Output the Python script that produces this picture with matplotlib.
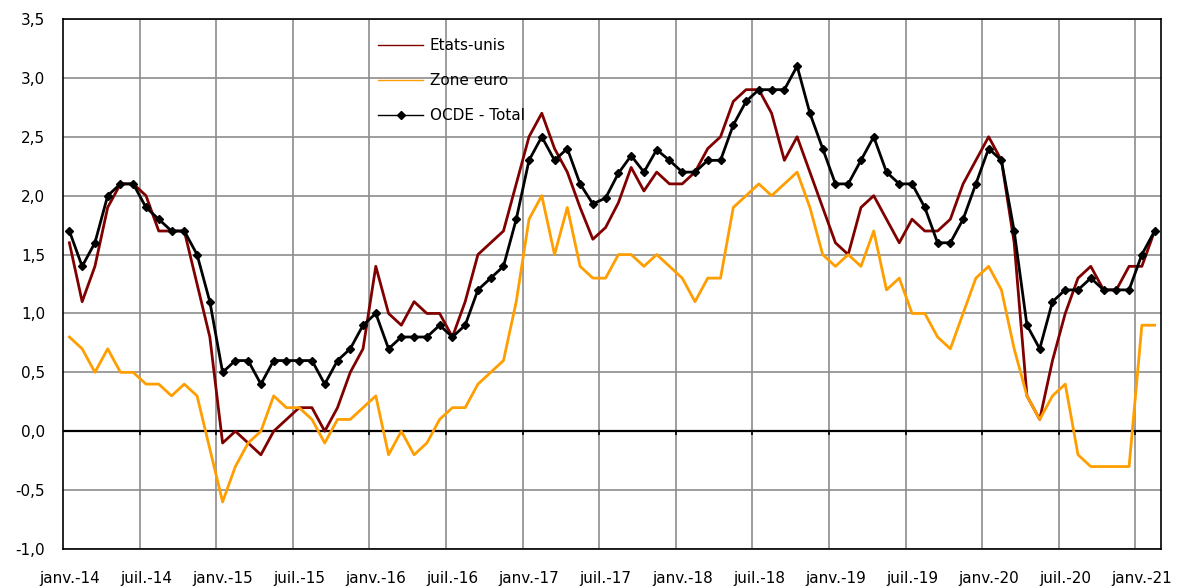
import matplotlib
matplotlib.use('Agg')
import matplotlib.pyplot as plt
from matplotlib.lines import Line2D
import numpy as np

# monthly values, janv.-14 .. févr.-21
etats_unis = [1.6, 1.1, 1.4, 1.9, 2.1, 2.1, 2.0, 1.7, 1.7, 1.7, 1.25, 0.8,
              -0.1, 0.0, -0.1, -0.2, 0.0, 0.1, 0.2, 0.2, 0.0, 0.2, 0.5, 0.7,
              1.4, 1.0, 0.9, 1.1, 1.0, 1.0, 0.8, 1.1, 1.5, 1.6, 1.7, 2.1,
              2.5, 2.7, 2.4, 2.2, 1.9, 1.63, 1.73, 1.94, 2.24, 2.04, 2.2, 2.1,
              2.1, 2.2, 2.4, 2.5, 2.8, 2.9, 2.9, 2.7, 2.3, 2.5, 2.2, 1.9,
              1.6, 1.5, 1.9, 2.0, 1.8, 1.6, 1.8, 1.7, 1.7, 1.8, 2.1, 2.3,
              2.5, 2.3, 1.6, 0.3, 0.1, 0.6, 1.0, 1.3, 1.4, 1.2, 1.2, 1.4,
              1.4, 1.7]
zone_euro = [0.8, 0.7, 0.5, 0.7, 0.5, 0.5, 0.4, 0.4, 0.3, 0.4, 0.3, -0.15,
             -0.6, -0.3, -0.1, 0.0, 0.3, 0.2, 0.2, 0.1, -0.1, 0.1, 0.1, 0.2,
             0.3, -0.2, 0.0, -0.2, -0.1, 0.1, 0.2, 0.2, 0.4, 0.5, 0.6, 1.1,
             1.8, 2.0, 1.5, 1.9, 1.4, 1.3, 1.3, 1.5, 1.5, 1.4, 1.5, 1.4,
             1.3, 1.1, 1.3, 1.3, 1.9, 2.0, 2.1, 2.0, 2.1, 2.2, 1.9, 1.5,
             1.4, 1.5, 1.4, 1.7, 1.2, 1.3, 1.0, 1.0, 0.8, 0.7, 1.0, 1.3,
             1.4, 1.2, 0.7, 0.3, 0.1, 0.3, 0.4, -0.2, -0.3, -0.3, -0.3, -0.3,
             0.9, 0.9]
ocde_total = [1.7, 1.4, 1.6, 2.0, 2.1, 2.1, 1.9, 1.8, 1.7, 1.7, 1.5, 1.1,
              0.5, 0.6, 0.6, 0.4, 0.6, 0.6, 0.6, 0.6, 0.4, 0.6, 0.7, 0.9,
              1.0, 0.7, 0.8, 0.8, 0.8, 0.9, 0.8, 0.9, 1.2, 1.3, 1.4, 1.8,
              2.3, 2.5, 2.3, 2.4, 2.1, 1.93, 1.98, 2.19, 2.34, 2.2, 2.39, 2.3,
              2.2, 2.2, 2.3, 2.3, 2.6, 2.8, 2.9, 2.9, 2.9, 3.1, 2.7, 2.4,
              2.1, 2.1, 2.3, 2.5, 2.2, 2.1, 2.1, 1.9, 1.6, 1.6, 1.8, 2.1,
              2.4, 2.3, 1.7, 0.9, 0.7, 1.1, 1.2, 1.2, 1.3, 1.2, 1.2, 1.2,
              1.5, 1.7]
x_labels = ['janv.-14', 'juil.-14', 'janv.-15', 'juil.-15', 'janv.-16',
            'juil.-16', 'janv.-17', 'juil.-17', 'janv.-18', 'juil.-18',
            'janv.-19', 'juil.-19', 'janv.-20', 'juil.-20', 'janv.-21']
y_ticks = [-1.0, -0.5, 0.0, 0.5, 1.0, 1.5, 2.0, 2.5, 3.0, 3.5]

plt.rcParams['font.family'] = ['DejaVu Sans']

fig = plt.figure(figsize=(11.78, 5.88), dpi=100)
ax = fig.add_axes([63 / 1178, 1 - 549 / 588, 1098 / 1178, 530 / 588])

x = np.arange(len(ocde_total))
red = '#800000'
orange = '#ff9e00'

ax.plot(x, etats_unis, color=red, lw=2.0, zorder=3)
ax.plot(x, zone_euro, color=orange, lw=2.0, zorder=3)
ax.plot(x, ocde_total, color='black', lw=2.0, marker='D', markersize=4, zorder=4)

ax.set_xlim(-0.5, len(x) - 0.5)
ax.set_ylim(-1.0, 3.5)

# labels every 6 months at category centre, grid on category boundary
ax.set_xticks(np.arange(len(x_labels)) * 6)
ax.set_xticklabels(x_labels)
grid_x = np.arange(1, len(x_labels)) * 6 - 0.5
ax.set_xticks(grid_x, minor=True)
ax.tick_params(axis='x', which='both', length=0, pad=16, labelsize=11)
ax.grid(True, axis='x', which='minor', color='#8c8c8c', lw=1.2)

ax.set_yticks(y_ticks)
ax.set_yticklabels([('%.1f' % v).replace('.', ',') for v in y_ticks])
ax.tick_params(axis='y', length=0, pad=13, labelsize=11)
ax.grid(True, axis='y', color='#8c8c8c', lw=1.2)
ax.set_axisbelow(True)

# zero line with small ticks
ax.axhline(0, color='black', lw=1.6, zorder=2)
ax.vlines(grid_x, -0.035, 0, color='black', lw=1.2, zorder=2)

for s in ax.spines.values():
    s.set_color('black')
    s.set_linewidth(1.2)

handles = [Line2D([], [], color=red, lw=1),
           Line2D([], [], color=orange, lw=1),
           Line2D([], [], color='black', lw=1, marker='D', markersize=4)]
fig.legend(handles, ['Etats-unis', 'Zone euro', 'OCDE - Total'],
           loc='upper left', bbox_to_anchor=(378 / 1178, 1 - 38 / 588),
           frameon=False, fontsize=11, borderpad=0, borderaxespad=0,
           handlelength=2.95, handletextpad=0.45, labelspacing=1.32)

fig.savefig('out.png', dpi=100)
